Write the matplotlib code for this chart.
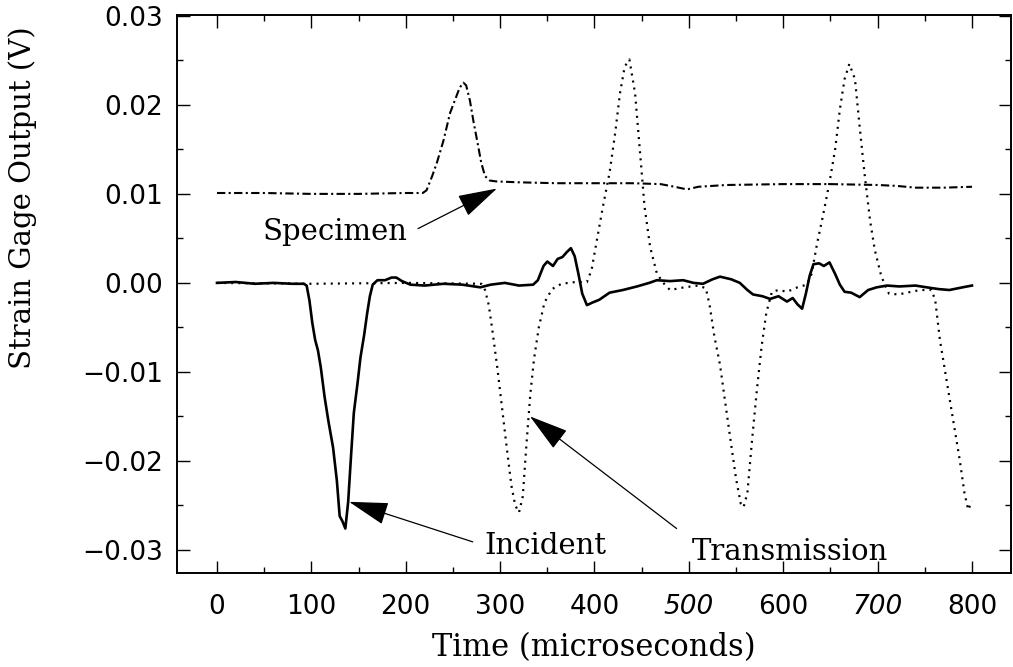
import matplotlib
matplotlib.use("Agg")
import matplotlib.pyplot as plt
from matplotlib.ticker import MultipleLocator

# Incident bar gage signal (solid)
incident_t = [0, 20, 40, 60, 80, 92, 95, 98, 101, 104, 107, 110, 114, 118, 123, 127,
              130, 133, 136, 139, 142, 145, 149, 152, 156, 159, 162, 165, 170, 178,
              185, 190, 196, 205, 220, 240, 260, 279, 290, 305, 320, 335, 340, 346,
              350, 356, 361, 366, 371, 375, 379, 383, 387, 392, 398, 405, 416, 430,
              445, 458, 466, 480, 494, 505, 515, 525, 533, 545, 554, 562, 568, 578,
              586, 595, 604, 610, 615, 620, 624, 628, 632, 638, 643, 649, 655, 660,
              665, 672, 681, 690, 699, 710, 723, 740, 752, 765, 776, 790, 800]
incident_v = [0.0000, 0.0001, -0.0001, 0.0000, -0.0001, -0.0001, -0.0003, -0.0020,
              -0.0045, -0.0064, -0.0076, -0.0095, -0.0128, -0.0155, -0.0185, -0.0222,
              -0.0262, -0.0268, -0.0276, -0.0246, -0.0195, -0.0146, -0.0112, -0.0084,
              -0.0058, -0.0035, -0.0015, -0.0002, 0.0003, 0.0003, 0.0006, 0.0006,
              0.0002, -0.0002, -0.0003, -0.0001, -0.0002, -0.0005, -0.0002, 0.0000,
              -0.0003, -0.0002, 0.0003, 0.0019, 0.0024, 0.0019, 0.0027, 0.0029,
              0.0035, 0.0039, 0.0030, 0.0010, -0.0012, -0.0025, -0.0022, -0.0019,
              -0.0011, -0.0008, -0.0004, 0.0000, 0.0003, 0.0002, 0.0003, 0.0000,
              -0.0001, 0.0004, 0.0007, 0.0004, 0.0000, -0.0008, -0.0013, -0.0015,
              -0.0018, -0.0015, -0.0021, -0.0017, -0.0024, -0.0029, -0.0012, 0.0008,
              0.0021, 0.0022, 0.0019, 0.0023, 0.0010, -0.0002, -0.0010, -0.0011,
              -0.0016, -0.0008, -0.0005, -0.0003, -0.0004, -0.0003, -0.0005, -0.0007,
              -0.0008, -0.0005, -0.0003]

# Transmission bar gage signal (dotted)
trans_t = [0, 100, 200, 280, 284, 288, 292, 297, 302, 307, 312, 316, 320, 324, 328,
           332, 336, 341, 347, 355, 365, 380, 392, 397, 402, 409, 416, 422, 427, 432,
           437, 443, 448, 453, 459, 466, 472, 480, 495, 510, 518, 522, 527, 533, 539,
           545, 550, 555, 558, 562, 567, 572, 577, 582, 588, 595, 604, 615, 625, 630,
           636, 642, 649, 655, 660, 665, 670, 676, 681, 686, 692, 697, 704, 712, 722,
           731, 745, 757, 761, 766, 773, 780, 787, 792, 796, 800]
trans_v = [0.0000, -0.0001, 0.0000, -0.0001, -0.0008, -0.0025, -0.0055, -0.0095,
           -0.0140, -0.0185, -0.0228, -0.0250, -0.0258, -0.0240, -0.0180, -0.0125,
           -0.0085, -0.0050, -0.0022, -0.0007, -0.0001, 0.0001, 0.0001, 0.0015,
           0.0045, 0.0086, 0.0124, 0.0169, 0.0213, 0.0243, 0.0251, 0.0213, 0.0150,
           0.0086, 0.0040, 0.0011, 0.0001, -0.0008, -0.0005, -0.0003, -0.0006,
           -0.0025, -0.0060, -0.0092, -0.0138, -0.0183, -0.0220, -0.0248, -0.0252,
           -0.0236, -0.0176, -0.0121, -0.0072, -0.0034, -0.0010, -0.0008, -0.0010,
           -0.0005, -0.0002, 0.0010, 0.0045, 0.0075, 0.0113, 0.0150, 0.0195, 0.0229,
           0.0246, 0.0229, 0.0175, 0.0124, 0.0070, 0.0037, 0.0007, -0.0012, -0.0013,
           -0.0011, -0.0008, -0.0008, -0.0019, -0.0064, -0.0109, -0.0154, -0.0199,
           -0.0236, -0.0255, -0.0245]

# Specimen gage signal (dash-dot)
spec_t = [0, 50, 100, 150, 200, 218, 222, 228, 233, 240, 247, 252, 257, 261, 264,
          268, 272, 276, 280, 284, 289, 296, 320, 360, 400, 440, 470, 485, 498, 510,
          540, 600, 650, 700, 720, 740, 770, 800]
spec_v = [0.0101, 0.0101, 0.0100, 0.0100, 0.0101, 0.0101, 0.0104, 0.0120, 0.0135,
          0.0160, 0.0191, 0.0205, 0.0219, 0.0225, 0.0222, 0.0205, 0.0180, 0.0158,
          0.0135, 0.0120, 0.0115, 0.0114, 0.0113, 0.0112, 0.0112, 0.0112, 0.0111,
          0.0108, 0.0105, 0.0108, 0.0110, 0.0111, 0.0111, 0.0110, 0.0109, 0.0107,
          0.0107, 0.0108]

x_ticks = [0, 100, 200, 300, 400, 500, 600, 700, 800]
x_tick_labels = ["0", "100", "200", "300", "400", "500", "600", "700", "800"]
italic_x_labels = ["500", "700"]
y_ticks = [-0.03, -0.02, -0.01, 0.00, 0.01, 0.02, 0.03]
y_tick_labels = ["\u22120.03", "\u22120.02", "\u22120.01", "0.00", "0.01", "0.02", "0.03"]

# (label, text position, arrow tail, arrow tip)
callouts = [
    ("Specimen", (47.7, 0.0048), (213, 0.0061), (296.6, 0.0106)),
    ("Incident", (283, -0.0305), (271, -0.0291), (140, -0.0246)),
    ("Transmission", (503, -0.0311), (487, -0.0276), (331.6, -0.0150)),
]

fig = plt.figure(figsize=(10.13, 6.67), dpi=100)
ax = fig.add_axes([0.1747, 0.1409, 0.8233, 0.8366])

ax.plot(trans_t, trans_v, color="black", lw=1.6, linestyle=(0, (0.9, 2.3)),
        dash_capstyle="butt")
ax.plot(spec_t, spec_v, color="black", lw=1.5, linestyle=(0, (4, 1.6, 1, 1.6)))
ax.plot(incident_t, incident_v, color="black", lw=1.9, solid_joinstyle="round")

ax.set_xlim(-42.4, 841.3)
ax.set_ylim(-0.0326, 0.0301)

ax.set_xticks(x_ticks)
ax.set_xticklabels(x_tick_labels)
ax.set_yticks(y_ticks)
ax.set_yticklabels(y_tick_labels)
ax.xaxis.set_minor_locator(MultipleLocator(50))
ax.yaxis.set_minor_locator(MultipleLocator(0.005))

ax.tick_params(which="both", direction="in", top=True, right=True, width=1.0,
               color="black")
ax.tick_params(which="major", length=9)
ax.tick_params(which="minor", length=4)
ax.tick_params(axis="x", which="major", pad=15)
ax.tick_params(axis="y", which="major", pad=10)

for lab in ax.get_xticklabels():
    lab.set_fontfamily("DejaVu Sans")
    lab.set_fontsize(19)
    if lab.get_text() in italic_x_labels:
        lab.set_fontstyle("italic")
for lab in ax.get_yticklabels():
    lab.set_fontfamily("DejaVu Sans")
    lab.set_fontsize(19)

for sp in ax.spines.values():
    sp.set_linewidth(1.4)

ax.set_xlabel("Time (microseconds)", fontfamily="DejaVu Serif", fontsize=22)
ax.xaxis.set_label_coords(0.5, -0.106)
ax.set_ylabel("Strain Gage Output (V)", fontfamily="DejaVu Serif", fontsize=21)
ax.yaxis.set_label_coords(-0.168, 0.672)

for label, text_pos, tail, tip in callouts:
    ax.text(text_pos[0], text_pos[1], label, fontfamily="DejaVu Serif",
            fontsize=21, ha="left", va="baseline")
    ax.annotate("", xy=tip, xytext=tail,
                arrowprops=dict(arrowstyle="-|>,head_length=1.25,head_width=0.36",
                                mutation_scale=20, lw=0.9, color="black",
                                shrinkA=0, shrinkB=0))

fig.savefig("out.png", dpi=100)
